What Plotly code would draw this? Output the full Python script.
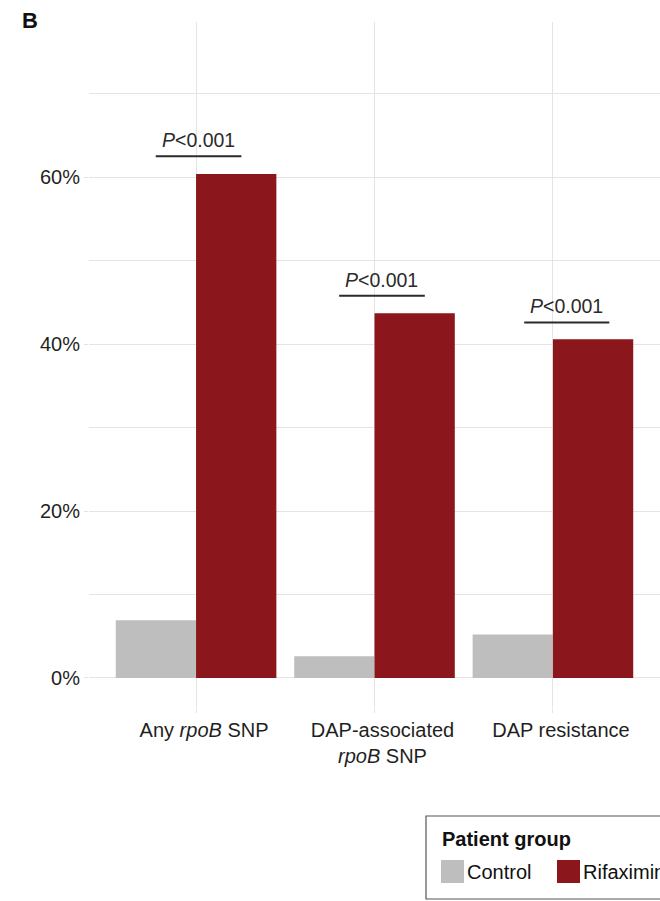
import plotly.graph_objects as go

# Proportion of patients with each outcome, by patient group (%)
categories = ["Any rpoB SNP", "DAP-associated rpoB SNP", "DAP resistance"]
category_labels = ["Any <i>rpoB</i> SNP", "DAP-associated<br><i>rpoB</i> SNP", "DAP resistance"]
control_pct = [6.9, 2.6, 5.2]
rifaximin_pct = [60.4, 43.7, 40.6]

# Significance brackets: left/right end (category units) and height (%)
bracket_x0 = [-0.226, 0.802, 1.839]
bracket_x1 = [0.254, 1.282, 2.316]
bracket_y = [62.5, 45.8, 42.6]
p_labels = ["<i>P</i>&lt;0.001"] * 3

y_ticks = [0, 20, 40, 60]
y_ticktext = ["0%", "20%", "40%", "60%"]
y_minor = [10, 30, 50, 70]

GREY = "#BEBEBE"
RED = "#8B161B"
GRID = "#E4E4E4"
TEXT = "#1f1f1f"
FONT = "Liberation Sans, Arial, Helvetica, sans-serif"

W, H = 660, 901
ML, MR, MT, MB = 89, 0, 22, 193
PW, PH = W - ML - MR, H - MT - MB


def px_x(x):
    return (x - ML) / PW


def px_y(y):
    return (H - MB - y) / PH


fig = go.Figure()
fig.add_trace(go.Bar(x=categories, y=control_pct, name="Control",
                     marker=dict(color=GREY, line=dict(width=0)), showlegend=False))
fig.add_trace(go.Bar(x=categories, y=rifaximin_pct, name="Rifaximin",
                     marker=dict(color=RED, line=dict(width=0)), showlegend=False))

# Brackets with P-value labels
for x0, x1, yb, lab in zip(bracket_x0, bracket_x1, bracket_y, p_labels):
    fig.add_shape(type="line", xref="x", yref="y", x0=x0, x1=x1, y0=yb, y1=yb,
                  line=dict(color="#2b2b2b", width=2))
    fig.add_annotation(x=(x0 + x1) / 2, y=yb, xref="x", yref="y", text=lab,
                       showarrow=False, yanchor="bottom", yshift=3,
                       font=dict(family=FONT, size=19.5, color="#2b2b2b"))

# Panel letter
fig.add_annotation(x=px_x(20), y=px_y(6), xref="paper", yref="paper", text="<b>B</b>",
                   showarrow=False, xanchor="left", yanchor="top",
                   font=dict(family=FONT, size=22, color="#111111"))

# Legend box
fig.add_shape(type="rect", xref="paper", yref="paper",
              x0=px_x(426), x1=px_x(700), y0=px_y(816), y1=px_y(899),
              line=dict(color="#555555", width=1.2), fillcolor="rgba(0,0,0,0)")
fig.add_annotation(x=px_x(440), y=px_y(839), xref="paper", yref="paper",
                   text="<b>Patient group</b>", showarrow=False,
                   xanchor="left", yanchor="middle",
                   font=dict(family=FONT, size=20, color="#111111"))
for sx, col, name in [(441, GREY, "Control"), (557, RED, "Rifaximin")]:
    fig.add_shape(type="rect", xref="paper", yref="paper",
                  x0=px_x(sx), x1=px_x(sx + 23), y0=px_y(883), y1=px_y(860),
                  line=dict(width=0), fillcolor=col)
    fig.add_annotation(x=px_x(sx + 24), y=px_y(871.5), xref="paper", yref="paper",
                       text=name, showarrow=False, xanchor="left", yanchor="middle",
                       font=dict(family=FONT, size=20, color="#111111"))

fig.update_layout(
    width=W, height=H,
    margin=dict(l=ML, r=MR, t=MT, b=MB, pad=0),
    paper_bgcolor="white", plot_bgcolor="white",
    barmode="group", bargap=0.1, bargroupgap=0,
    font=dict(family=FONT, size=20, color=TEXT),
    showlegend=False,
)
fig.update_xaxes(
    type="category", range=[-0.6, 2.6],
    tickvals=categories, ticktext=category_labels,
    ticklabelshift=8,
    showgrid=True, gridcolor=GRID, gridwidth=1,
    ticks="outside", ticklen=4, tickcolor=GRID, tickwidth=1,
    showline=False, zeroline=False,
    tickfont=dict(family=FONT, size=20, color=TEXT),
)
fig.update_yaxes(
    range=[-3.6, 78.6],
    tickvals=y_ticks, ticktext=y_ticktext,
    showgrid=True, gridcolor=GRID, gridwidth=1,
    minor=dict(tickvals=y_minor, showgrid=True, gridcolor=GRID, gridwidth=1),
    ticks="outside", ticklen=4, tickcolor=GRID, tickwidth=1,
    showline=False, zeroline=False,
    tickfont=dict(family=FONT, size=20, color=TEXT),
)

fig.write_html("out.html")
